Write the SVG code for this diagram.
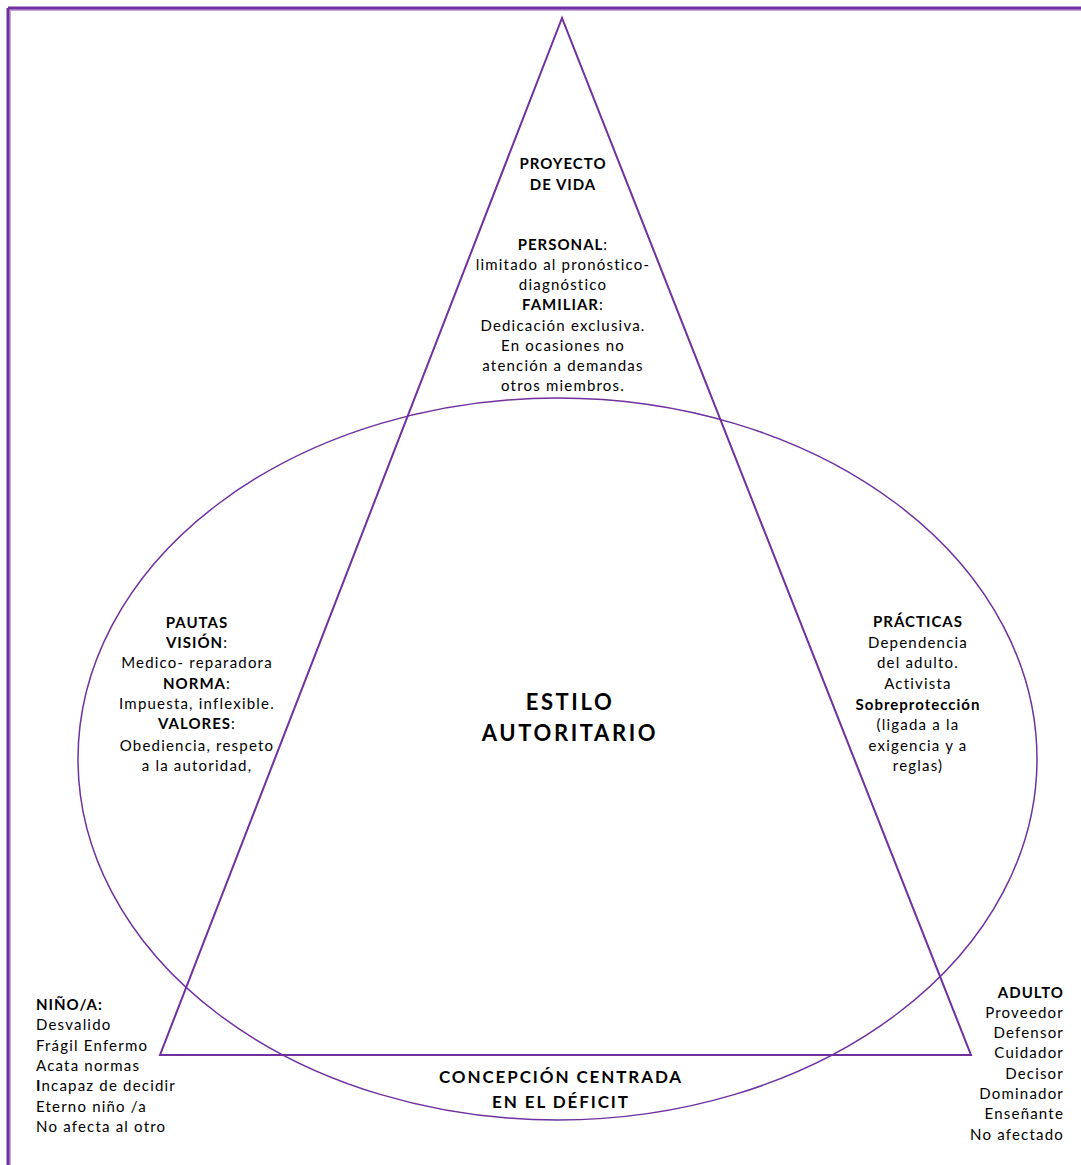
<svg xmlns="http://www.w3.org/2000/svg" width="1081" height="1165" viewBox="0 0 1081 1165">
  <style>
    .t { font-family: Lato, "Open Sans", "Liberation Sans", sans-serif; font-size: 15px; fill: #000; letter-spacing: 1.2px; }
    .c { text-anchor: middle; }
    .r { text-anchor: end; }
    .b { font-weight: bold; letter-spacing: 1px; }
    .big { font-size: 22px; font-weight: bold; letter-spacing: 2.6px; }
    .mid { font-size: 17px; font-weight: bold; letter-spacing: 1.9px; }
    .shape { fill: none; stroke: #7030A0; }
  </style>
  <rect width="1081" height="1165" fill="#fff"/>
  <!-- page frame: top and left rule -->
  <g id="frame">
    <path d="M9 9.5 H1081 M9.5 9 V1165" stroke="#c9a8e0" stroke-width="3" fill="none"/>
    <path d="M8 8 H1081 M8 8 V1165" stroke="#7030A0" stroke-width="3" fill="none"/>
  </g>
  <g id="connectors">
    <ellipse class="shape" stroke-width="1.5" cx="557.5" cy="759" rx="479.5" ry="361"/>
    <polygon class="shape" stroke-width="2" points="562,18 160,1055 971,1055"/>
  </g>
  <g id="proyecto">
    <text class="t c b" x="563" y="169">PROYECTO</text>
    <text class="t c b" x="563" y="190">DE VIDA</text>
    <text class="t c" x="563" y="250"><tspan class="b">PERSONAL</tspan>:</text>
    <text class="t c" x="563" y="270">limitado al pronóstico-</text>
    <text class="t c" x="563" y="290">diagnóstico</text>
    <text class="t c" x="563" y="310"><tspan class="b">FAMILIAR</tspan>:</text>
    <text class="t c" x="563" y="331">Dedicación  exclusiva.</text>
    <text class="t c" x="563" y="351">En ocasiones no</text>
    <text class="t c" x="563" y="371">atención a demandas</text>
    <text class="t c" x="563" y="391">otros miembros.</text>
  </g>
  <g id="pautas">
    <text class="t c b" x="197" y="628">PAUTAS</text>
    <text class="t c" x="197" y="648"><tspan class="b">VISIÓN</tspan>:</text>
    <text class="t c" x="197" y="668">Medico- reparadora</text>
    <text class="t c" x="197" y="689"><tspan class="b">NORMA</tspan>:</text>
    <text class="t c" x="197" y="709">Impuesta, inflexible.</text>
    <text class="t c" x="197" y="729"><tspan class="b">VALORES</tspan>:</text>
    <text class="t c" x="197" y="751">Obediencia, respeto</text>
    <text class="t c" x="197" y="771">a la autoridad,</text>
  </g>
  <g id="practicas">
    <text class="t c b" x="918" y="627">PRÁCTICAS</text>
    <text class="t c" x="918" y="648">Dependencia</text>
    <text class="t c" x="918" y="668">del adulto.</text>
    <text class="t c" x="918" y="689">Activista</text>
    <text class="t c b" x="918" y="710">Sobreprotección</text>
    <text class="t c" x="918" y="730">(ligada a la</text>
    <text class="t c" x="918" y="751">exigencia y a</text>
    <text class="t c" x="918" y="771">reglas)</text>
  </g>
  <g id="estilo">
    <text class="t c big" x="570" y="710">ESTILO</text>
    <text class="t c big" x="570" y="741">AUTORITARIO</text>
  </g>
  <g id="nino">
    <text class="t b" x="36" y="1010">NIÑO/A:</text>
    <text class="t" x="36" y="1030">Desvalido</text>
    <text class="t" x="36" y="1051">Frágil Enfermo</text>
    <text class="t" x="36" y="1071">Acata normas</text>
    <text class="t" x="36" y="1091"><tspan class="b">I</tspan>ncapaz de decidir</text>
    <text class="t" x="36" y="1112">Eterno niño /a</text>
    <text class="t" x="36" y="1132">No afecta al otro</text>
  </g>
  <g id="adulto">
    <text class="t r b" x="1064" y="998">ADULTO</text>
    <text class="t r" x="1064" y="1018">Proveedor</text>
    <text class="t r" x="1064" y="1038">Defensor</text>
    <text class="t r" x="1064" y="1058">Cuidador</text>
    <text class="t r" x="1064" y="1079">Decisor</text>
    <text class="t r" x="1064" y="1099">Dominador</text>
    <text class="t r" x="1064" y="1119">Enseñante</text>
    <text class="t r" x="1064" y="1140">No afectado</text>
  </g>
  <g id="concepcion">
    <text class="t c mid" x="561" y="1083">CONCEPCIÓN CENTRADA</text>
    <text class="t c mid" x="561" y="1108">EN  EL DÉFICIT</text>
  </g>
</svg>
